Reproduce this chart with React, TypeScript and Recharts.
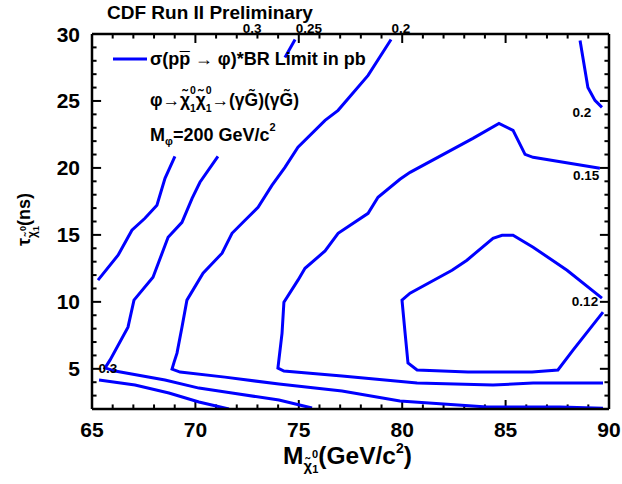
import { LineChart, Line, XAxis, YAxis, ReferenceDot, ReferenceLine, Legend } from 'recharts'

const FONT = '"Liberation Sans", Arial, Helvetica, sans-serif'
const BLUE = '#0000ff'

// axis ticks (ROOT style: major every 5, minor every 1)
const X_MAJOR = [65, 70, 75, 80, 85, 90]
const X_MINOR = [65, 66, 67, 68, 69, 70, 71, 72, 73, 74, 75, 76, 77, 78, 79, 80, 81, 82, 83, 84, 85, 86, 87, 88, 89, 90]
const Y_MAJOR = [5, 10, 15, 20, 25, 30]
const Y_MINOR = [2, 3, 4, 5, 6, 7, 8, 9, 10, 11, 12, 13, 14, 15, 16, 17, 18, 19, 20, 21, 22, 23, 24, 25, 26, 27, 28, 29, 30]

// contour lines: x = neutralino mass, y = lifetime
const c1 = [
  { x: 69.01, y: 20.87 }, { x: 68.53, y: 19.22 }, { x: 68.14, y: 17.21 }, { x: 67.56, y: 16.24 },
  { x: 66.93, y: 15.35 }, { x: 66.26, y: 13.48 }, { x: 65.29, y: 11.62 },
]
const c2 = [
  { x: 71.09, y: 20.87 }, { x: 70.22, y: 18.93 }, { x: 69.84, y: 17.73 }, { x: 69.35, y: 15.94 },
  { x: 68.68, y: 14.82 }, { x: 67.95, y: 11.84 }, { x: 67.03, y: 10.13 }, { x: 66.74, y: 8.11 },
  { x: 65.87, y: 5.65 }, { x: 65.63, y: 5.06 }, { x: 66.11, y: 4.83 }, { x: 68.53, y: 4.16 },
  { x: 70.17, y: 3.56 }, { x: 71.77, y: 3.19 }, { x: 74.04, y: 2.67 }, { x: 75.64, y: 2.07 },
]
const c25top = [{ x: 74.82, y: 29.59 }, { x: 74.33, y: 28.25 }]
const c3 = [
  { x: 79.46, y: 29.59 }, { x: 78.35, y: 26.91 }, { x: 76.9, y: 24.3 }, { x: 76.27, y: 23.55 },
  { x: 74.96, y: 21.54 }, { x: 74.33, y: 20.04 }, { x: 73.7, y: 18.7 }, { x: 73.03, y: 17.06 },
  { x: 72.4, y: 16.09 }, { x: 71.77, y: 15.12 }, { x: 71.29, y: 13.63 }, { x: 70.37, y: 12.14 },
  { x: 69.59, y: 10.13 }, { x: 69.35, y: 8.11 }, { x: 69.11, y: 6.17 }, { x: 68.97, y: 5.5 },
  { x: 68.87, y: 4.98 }, { x: 69.26, y: 4.76 }, { x: 71.43, y: 4.38 }, { x: 74.04, y: 3.86 },
  { x: 77.09, y: 3.34 }, { x: 79.89, y: 2.59 }, { x: 84.1, y: 2.15 }, { x: 87.63, y: 2.15 },
  { x: 89.71, y: 2.05 },
]
const c4 = [
  { x: 89.56, y: 19.97 }, { x: 86.33, y: 20.79 }, { x: 85.94, y: 21.01 }, { x: 85.36, y: 22.8 },
  { x: 84.68, y: 23.33 }, { x: 83.42, y: 22.21 }, { x: 80.38, y: 19.67 }, { x: 79.89, y: 19.15 },
  { x: 78.83, y: 17.81 }, { x: 78.35, y: 16.61 }, { x: 76.9, y: 15.12 }, { x: 76.27, y: 13.8 },
  { x: 75.3, y: 12.51 }, { x: 74.96, y: 11.62 }, { x: 74.28, y: 9.98 }, { x: 74.19, y: 7.67 },
  { x: 73.99, y: 5.06 }, { x: 74.28, y: 4.83 }, { x: 77.09, y: 4.46 }, { x: 80.72, y: 3.94 },
  { x: 84.39, y: 3.79 }, { x: 86.33, y: 3.94 }, { x: 89.71, y: 3.94 },
]
const c5 = [
  { x: 89.66, y: 10.28 }, { x: 87.97, y: 12.36 }, { x: 86.33, y: 14.08 }, { x: 85.36, y: 14.97 },
  { x: 84.83, y: 14.97 }, { x: 84.39, y: 14.75 }, { x: 83.13, y: 13.11 }, { x: 82.41, y: 12.36 },
  { x: 80.38, y: 10.65 }, { x: 79.99, y: 10.13 }, { x: 80.14, y: 7.67 }, { x: 80.28, y: 5.43 },
  { x: 80.72, y: 4.91 }, { x: 83.18, y: 4.76 }, { x: 86.28, y: 4.76 }, { x: 87.53, y: 4.91 },
  { x: 88.26, y: 6.4 }, { x: 89.71, y: 9.23 },
]
const c6 = [
  { x: 65.34, y: 4.16 }, { x: 67.08, y: 3.79 }, { x: 68.72, y: 3.19 }, { x: 70.17, y: 2.52 },
  { x: 71.62, y: 2.0 },
]
const c7 = [{ x: 88.6, y: 29.52 }, { x: 88.98, y: 26.01 }, { x: 89.32, y: 25.04 }, { x: 89.66, y: 24.52 }]

const CONTOURS = [c1, c2, c25top, c3, c4, c5, c6, c7]

const LEVEL_LABELS = [
  { x: 72.74, y: 30.42, text: '0.3' },
  { x: 75.49, y: 30.42, text: '0.25' },
  { x: 79.94, y: 30.42, text: '0.2' },
  { x: 88.69, y: 24.15, text: '0.2' },
  { x: 88.89, y: 19.49, text: '0.15' },
  { x: 88.84, y: 10.05, text: '0.12' },
  { x: 65.77, y: 5.06, text: '0.3' },
]

const X_MIN = 65
const X_MAX = 90
const Y_MIN = 2
const Y_MAX = 30

// inward tick lengths, in axis units
const XT_MAJOR = 0.67
const XT_MINOR = 0.34
const YT_MAJOR = 0.44
const YT_MINOR = 0.22

// every tick is its own two-point line, drawn through the axis scales
const xTickLen = (v: number) => (X_MAJOR.includes(v) ? XT_MAJOR : XT_MINOR)
const yTickLen = (v: number) => (Y_MAJOR.includes(v) ? YT_MAJOR : YT_MINOR)
const TICK_SEGMENTS = [
  ...X_MINOR.map((v) => [{ x: v, y: Y_MIN }, { x: v, y: Y_MIN + xTickLen(v) }]),
  ...X_MINOR.map((v) => [{ x: v, y: Y_MAX }, { x: v, y: Y_MAX - xTickLen(v) }]),
  ...Y_MINOR.map((v) => [{ x: X_MIN, y: v }, { x: X_MIN + yTickLen(v), y: v }]),
  ...Y_MINOR.map((v) => [{ x: X_MAX, y: v }, { x: X_MAX - yTickLen(v), y: v }]),
]

function XTickLabel({ x, y, payload }: any) {
  return (
    <text x={x} y={y + 28} textAnchor="middle" fontFamily={FONT} fontWeight="bold" fontSize={21} fill="#000">
      {payload.value}
    </text>
  )
}

function YTickLabel({ x, y, payload }: any) {
  return (
    <text x={x - 12} y={y + 7.5} textAnchor="end" fontFamily={FONT} fontWeight="bold" fontSize={21} fill="#000">
      {payload.value}
    </text>
  )
}

function XTitle({ viewBox }: any) {
  const cx = viewBox.x + viewBox.width / 2 - 3
  return (
    <text x={cx} y={viewBox.y + 55} textAnchor="middle" fontFamily={FONT} fontWeight="bold" fontSize={24.5} fill="#000">
      M
      <tspan fontSize={15} dy={7}>χ̃</tspan>
      <tspan fontSize={11} dy={-13}>0</tspan>
      <tspan fontSize={11} dx={-6} dy={15}>1</tspan>
      <tspan fontSize={24.5} dy={-9}>(GeV/c</tspan>
      <tspan fontSize={14} dy={-11}>2</tspan>
      <tspan fontSize={24.5} dy={11}>)</tspan>
    </text>
  )
}

// y title plus the plot title above the frame
function YTitle({ viewBox }: any) {
  const bx = viewBox.x - 22
  const cy = viewBox.y + viewBox.height / 2 - 2
  return (
    <g>
      <text
        x={bx} y={cy} transform={`rotate(-90 ${bx} ${cy})`}
        textAnchor="middle" fontFamily={FONT} fontWeight="bold" fontSize={18} fill="#000"
      >
        τ
        <tspan fontSize={12} dy={6}>χ̃</tspan>
        <tspan fontSize={9} dy={-10}>0</tspan>
        <tspan fontSize={9} dx={-5} dy={13}>1</tspan>
        <tspan fontSize={18} dy={-9}>(ns)</tspan>
      </text>
      <text x={viewBox.x + viewBox.width + 15} y={viewBox.y - 15} fontFamily={FONT} fontWeight="bold" fontSize={19} fill="#000">
        CDF Run II Preliminary
      </text>
    </g>
  )
}

function LegendBox() {
  return (
    <svg width={330} height={130} style={{ display: 'block' }}>
      <line x1={13} y1={29} x2={47} y2={29} stroke={BLUE} strokeWidth={3} />
      <g fontFamily={FONT} fontWeight="bold" fill="#000">
        <text x={50} y={35} fontSize={18}>
          σ(pp<tspan dx={-10.5}>¯</tspan> → φ)*BR Limit in pb
        </text>
        <text x={50} y={76} fontSize={17.5}>
          φ→χ̃
          <tspan fontSize={10.5} dy={-12}>0</tspan>
          <tspan fontSize={10.5} dx={-6} dy={18}>1</tspan>
          <tspan dy={-6}>χ̃</tspan>
          <tspan fontSize={10.5} dy={-12}>0</tspan>
          <tspan fontSize={10.5} dx={-6} dy={18}>1</tspan>
          <tspan dy={-6}>→(γG̃)(γG̃)</tspan>
        </text>
        <text x={50} y={111} fontSize={18}>
          M<tspan fontSize={11} dy={4}>φ</tspan>
          <tspan dy={-4}>=200 GeV/c</tspan>
          <tspan fontSize={11} dy={-10}>2</tspan>
        </text>
      </g>
    </svg>
  )
}

const frameStroke = { stroke: '#000', strokeWidth: 2.5 }

export default function App() {
  return (
    <div style={{ position: 'absolute', left: 0, top: 0, width: 622, height: 484, background: '#fff' }}>
      <LineChart width={622} height={484} margin={{ top: 34, right: 13, left: 52, bottom: 45 }}>
        <XAxis
          xAxisId="x" type="number" dataKey="x" domain={[X_MIN, X_MAX]} allowDataOverflow
          ticks={X_MAJOR} interval={0} tickLine={false} tickSize={0} tickMargin={0}
          axisLine={frameStroke} height={30} tick={XTickLabel} label={XTitle}
        />
        <YAxis
          yAxisId="y" type="number" domain={[Y_MIN, Y_MAX]} allowDataOverflow
          ticks={Y_MAJOR} interval={0} tickLine={false} tickSize={0} tickMargin={0}
          axisLine={frameStroke} width={40} tick={YTickLabel} label={YTitle}
        />

        {/* top and right sides of the frame */}
        <ReferenceLine xAxisId="x" yAxisId="y" y={Y_MAX} {...frameStroke} />
        <ReferenceLine xAxisId="x" yAxisId="y" x={X_MAX} {...frameStroke} />

        {/* inward ticks on all four sides */}
        {TICK_SEGMENTS.map((t, i) => (
          <Line
            key={`tick-${i}`} xAxisId="x" yAxisId="y" data={t} dataKey="y" type="linear"
            stroke="#000" strokeWidth={2} dot={false} activeDot={false} isAnimationActive={false}
          />
        ))}

        {CONTOURS.map((c, i) => (
          <Line
            key={`contour-${i}`} xAxisId="x" yAxisId="y" data={c} dataKey="y" type="linear"
            stroke={BLUE} strokeWidth={3} dot={false} activeDot={false} isAnimationActive={false}
          />
        ))}

        {LEVEL_LABELS.map((l, i) => (
          <ReferenceDot
            key={`lbl-${i}`} xAxisId="x" yAxisId="y" x={l.x} y={l.y} r={0}
            fill="none" stroke="none" ifOverflow="visible"
            label={{ value: l.text, position: 'center', fontFamily: FONT, fontWeight: 'bold', fontSize: 13.5, fill: '#000' }}
          />
        ))}

        <Legend
          content={LegendBox} layout="horizontal" verticalAlign="middle" align="center"
          wrapperStyle={{ left: 100, top: 30, width: 330, height: 130 }}
        />
      </LineChart>
    </div>
  )
}
